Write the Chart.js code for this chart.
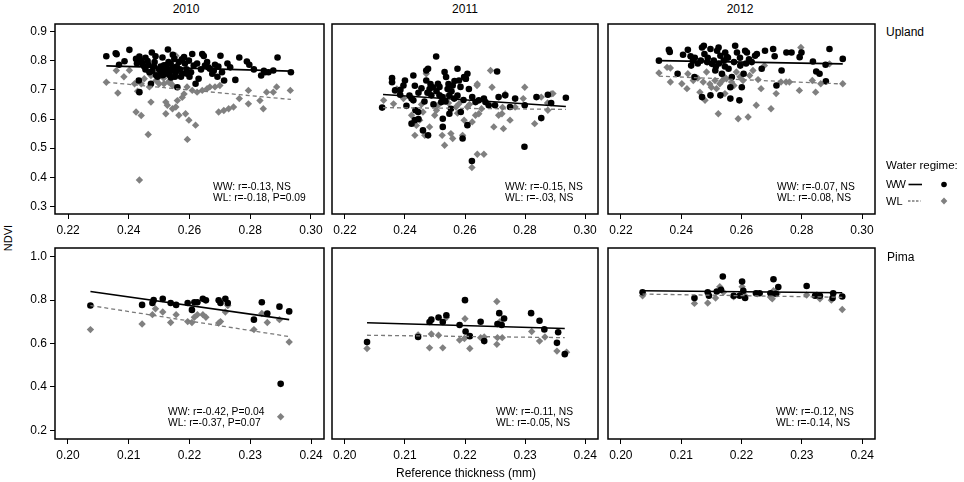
<!DOCTYPE html>
<html><head><meta charset="utf-8">
<script src="https://cdn.jsdelivr.net/npm/chart.js@4.4.1/dist/chart.umd.min.js"></script>
<style>
html,body{margin:0;padding:0;background:#fff;width:964px;height:482px;overflow:hidden;font-family:"Liberation Sans",Arial,sans-serif;color:#000}
.pane{position:absolute}
.t{position:absolute;white-space:nowrap;line-height:1}
.c{transform:translate(-50%,-50%)}
.s{font-size:10.3px;line-height:10.5px}
</style></head><body>
<script>
// ---------- data ----------
const years = ['2010', '2011', '2012'];
const cottonTypes = ['Upland', 'Pima'];
const xTicksUpland = [0.22, 0.24, 0.26, 0.28, 0.30];
const yTicksUpland = [0.3, 0.4, 0.5, 0.6, 0.7, 0.8, 0.9];
const xTicksPima = [0.20, 0.21, 0.22, 0.23, 0.24];
const yTicksPima = [0.2, 0.4, 0.6, 0.8, 1.0];

// Upland 2010
const wwU2010 = [[.2326,.815],[.2357,.825],[.236,.822],[.2368,.786],[.2386,.798],[.2402,.837],[.2424,.806],[.2427,.79],[.2435,.814],[.244,.80],[.2433,.732],[.2435,.692],[.2451,.78],[.2462,.799],[.2468,.76],[.2473,.721],[.2476,.828],[.2483,.78],[.249,.75],[.25,.77],[.2511,.811],[.2516,.784],[.2522,.755],[.2529,.838],[.2531,.795],[.2533,.765],[.2539,.742],[.2544,.777],[.255,.806],[.2555,.76],[.256,.709],[.2565,.795],[.2576,.755],[.2582,.812],[.2592,.755],[.2598,.80],[.2609,.823],[.2614,.783],[.262,.721],[.263,.738],[.2642,.823],[.2647,.816],[.2651,.783],[.2662,.777],[.2667,.772],[.2675,.755],[.2684,.786],[.2702,.817],[.2707,.76],[.2714,.732],[.2734,.777],[.2751,.734],[.2764,.811],[.2789,.797],[.2797,.786],[.2836,.749],[.2849,.76],[.286,.76],[.2876,.766],[.289,.811],[.2934,.76],
  [.2445,.79],[.2455,.77],[.2465,.785],[.2478,.765],[.2485,.795],[.2495,.745],[.2505,.76],[.2505,.78],[.2512,.75],[.2518,.77],[.2525,.785],[.2535,.75],[.2538,.79],[.2548,.765],[.2552,.745],[.2558,.78],[.2568,.77],[.2572,.745],[.2585,.79],[.259,.77],[.2605,.76],[.2625,.79],[.2638,.77],[.2658,.795],[.268,.765],[.2695,.78],[.2455,.81],[.2488,.815],[.2545,.82],[.2575,.805],[.26,.745],[.2692,.745],[.2725,.79],[.2812,.77],[.2845,.765]];
const wlU2010 = [[.2326,.726],[.2364,.689],[.2359,.766],[.2384,.745],[.2402,.767],[.2419,.721],[.2424,.624],[.2429,.695],[.2441,.612],[.2441,.721],[.2451,.738],[.2464,.547],[.2468,.71],[.2473,.658],[.2473,.749],[.249,.732],[.25,.721],[.2516,.721],[.2522,.658],[.2527,.647],[.2522,.618],[.2531,.727],[.2539,.721],[.2544,.635],[.2555,.817],[.2555,.641],[.256,.663],[.2565,.613],[.2576,.674],[.2582,.686],[.2587,.618],[.2592,.71],[.2593,.53],[.2598,.596],[.262,.579],[.2609,.698],[.2625,.692],[.2642,.698],[.2658,.704],[.2667,.71],[.2684,.71],[.27,.715],[.2696,.624],[.2713,.629],[.2729,.635],[.2745,.641],[.2764,.67],[.2794,.698],[.2794,.652],[.2832,.663],[.2843,.635],[.2854,.692],[.2876,.692],[.2887,.71],[.2932,.698],[.2435,.391],[.2535,.73],[.2545,.715],[.2515,.74]];
const wwLineU2010 = [[.2326,.782],[.2934,.764]];
const wlLineU2010 = [[.2326,.726],[.2934,.667]];
const statsU2010 = ['WW: r=-0.13, NS', 'WL: r=-0.18, P=0.09'];

// Upland 2011
const wwU2011 = [[.2324,.639],[.2357,.726],[.2357,.74],[.2367,.698],[.2384,.683],[.24,.732],[.2428,.749],[.2433,.714],[.2422,.67],[.2428,.664],[.2422,.584],[.2433,.596],[.2444,.624],[.246,.561],[.2477,.544],[.2471,.732],[.2471,.766],[.2477,.772],[.2482,.703],[.2488,.681],[.2493,.709],[.2504,.814],[.251,.721],[.2515,.681],[.2521,.658],[.2526,.601],[.2526,.573],[.2532,.761],[.2537,.744],[.2542,.703],[.2548,.681],[.2548,.618],[.2553,.635],[.2559,.715],[.2564,.67],[.2575,.772],[.258,.732],[.2586,.624],[.2592,.533],[.2597,.744],[.2602,.738],[.2608,.579],[.2608,.755],[.2613,.703],[.2624,.675],[.2635,.658],[.2646,.664],[.2663,.67],[.2668,.658],[.2679,.647],[.27,.647],[.2707,.763],[.2712,.675],[.2734,.681],[.275,.641],[.2767,.67],[.2799,.647],[.2838,.675],[.2854,.603],[.2876,.683],[.2887,.655],[.2936,.673],[.2798,.505],[.2623,.456],[.2603,.738],
  [.2445,.69],[.2455,.705],[.2465,.66],[.2475,.69],[.2485,.72],[.2495,.65],[.2505,.695],[.2515,.71],[.2525,.675],[.2535,.66],[.2545,.72],[.2555,.695],[.2565,.73],[.2575,.68],[.2585,.71],[.2595,.665],[.2385,.70],[.2395,.715],[.2415,.68],[.2405,.645],[.2435,.63],[.2445,.60]];
const wlU2011 = [[.2329,.664],[.2362,.652],[.2373,.703],[.2422,.613],[.2433,.544],[.2438,.578],[.2449,.596],[.246,.624],[.2466,.544],[.2471,.755],[.2482,.573],[.2499,.613],[.251,.647],[.2524,.544],[.2532,.51],[.2537,.675],[.2553,.55],[.2559,.533],[.257,.641],[.258,.652],[.2592,.544],[.2597,.596],[.2608,.641],[.2624,.59],[.2635,.613],[.264,.715],[.2646,.618],[.2685,.766],[.269,.709],[.2696,.573],[.2712,.613],[.2723,.618],[.2728,.567],[.2734,.686],[.275,.596],[.2767,.641],[.2794,.67],[.2799,.709],[.2832,.584],[.2854,.675],[.2876,.63],[.2887,.686],[.2641,.479],[.2663,.479],[.2623,.434],[.2641,.72],[.2893,.687],[.2875,.655],[.2395,.67],[.2455,.65],[.2505,.63],[.2545,.655],[.2575,.62],[.2615,.65],[.2655,.635],[.2725,.64]];
const wwLineU2011 = [[.2327,.684],[.2936,.643]];
const wlLineU2011 = [[.2327,.639],[.2936,.633]];
const statsU2011 = ['WW: r=-0.15, NS', 'WL: r=-.03, NS'];

// Upland 2012
const wwU2012 = [[.2326,.80],[.2359,.837],[.2362,.83],[.2388,.755],[.2406,.82],[.2422,.837],[.2431,.815],[.2439,.80],[.2433,.783],[.2444,.744],[.2469,.845],[.2475,.851],[.2477,.823],[.2486,.795],[.2497,.84],[.2502,.789],[.2513,.766],[.2519,.834],[.2524,.845],[.253,.817],[.2535,.755],[.2541,.80],[.2546,.828],[.2552,.812],[.2557,.772],[.2563,.709],[.2568,.744],[.2579,.851],[.2585,.828],[.2596,.783],[.2601,.709],[.2607,.755],[.2612,.834],[.2618,.828],[.2469,.675],[.2497,.681],[.253,.681],[.2563,.67],[.2593,.664],[.2634,.795],[.2645,.817],[.2651,.823],[.2667,.772],[.2678,.834],[.2705,.84],[.271,.815],[.2716,.715],[.2733,.766],[.2749,.828],[.2766,.828],[.2793,.812],[.2799,.828],[.2837,.797],[.2848,.763],[.2859,.755],[.2879,.786],[.2892,.84],[.2936,.806],[.288,.729],
  [.2445,.81],[.2455,.79],[.2465,.80],[.2488,.81],[.2508,.80],[.2515,.78],[.2525,.79],[.2545,.78],[.2555,.81],[.2575,.795],[.2595,.81],[.2615,.79],[.2625,.805]];
const wlU2012 = [[.2326,.758],[.2353,.777],[.2364,.775],[.2364,.727],[.2402,.721],[.2419,.704],[.2422,.755],[.244,.732],[.2462,.692],[.2473,.727],[.2479,.664],[.2484,.761],[.25,.709],[.2512,.732],[.2517,.704],[.2523,.618],[.2528,.721],[.2539,.749],[.2545,.687],[.255,.738],[.2567,.727],[.2583,.761],[.2589,.601],[.2605,.732],[.2622,.607],[.2627,.749],[.2638,.766],[.2649,.647],[.2665,.704],[.2676,.783],[.2698,.635],[.2715,.687],[.2731,.727],[.2748,.727],[.2759,.727],[.2792,.698],[.2797,.845],[.2835,.732],[.2846,.692],[.2863,.721],[.2892,.789],[.2936,.721],[.2455,.74],[.2495,.72],[.2535,.73],[.2575,.715],[.2595,.745],[.2655,.735]];
const wwLineU2012 = [[.2326,.80],[.2936,.789]];
const wlLineU2012 = [[.2326,.747],[.2936,.72]];
const statsU2012 = ['WW: r=-0.07, NS', 'WL: r=-0.08, NS'];

// Pima 2010
const wwP2010 = [[.2037,.775],[.2122,.778],[.2139,.787],[.2141,.80],[.2156,.806],[.2169,.787],[.2178,.778],[.2197,.787],[.2208,.79],[.2213,.79],[.2204,.755],[.2222,.806],[.2227,.799],[.2248,.799],[.2251,.787],[.2259,.806],[.2263,.787],[.2306,.71],[.2319,.79],[.2328,.738],[.2348,.77],[.235,.414],[.2364,.748]];
const wlP2010 = [[.2037,.664],[.2122,.69],[.2139,.733],[.2144,.76],[.2156,.745],[.2169,.697],[.2178,.733],[.2197,.701],[.2208,.721],[.2213,.733],[.2204,.697],[.2222,.733],[.2227,.721],[.2248,.694],[.2251,.701],[.2259,.745],[.2263,.775],[.2306,.664],[.2319,.738],[.2328,.697],[.2348,.71],[.235,.262],[.2364,.607]];
const wwLineP2010 = [[.2037,.84],[.2364,.71]];
const wlLineP2010 = [[.2037,.775],[.2364,.632]];
const statsP2010 = ['WW: r=-0.42, P=0.04', 'WL: r=-0.37, P=0.07'];

// Pima 2011
const wwP2011 = [[.2037,.607],[.2122,.63],[.2141,.699],[.2144,.71],[.2156,.72],[.2163,.699],[.2169,.73],[.2191,.685],[.2201,.655],[.22,.80],[.2208,.634],[.2226,.70],[.2232,.611],[.2254,.69],[.2257,.74],[.2261,.685],[.2265,.715],[.231,.74],[.2324,.705],[.2332,.665],[.2355,.652],[.2353,.603],[.2366,.551]];
const wlP2011 = [[.2037,.577],[.2122,.64],[.2141,.58],[.2144,.644],[.2156,.638],[.2163,.58],[.2169,.72],[.2191,.616],[.2199,.623],[.22,.714],[.2208,.577],[.2226,.627],[.2232,.63],[.2254,.627],[.2253,.794],[.2253,.596],[.2258,.70],[.2262,.627],[.2311,.655],[.2324,.611],[.2333,.63],[.2353,.565],[.2369,.56]];
const wwLineP2011 = [[.2037,.696],[.2366,.669]];
const wlLineP2011 = [[.2037,.638],[.2366,.627]];
const statsP2011 = ['WW: r=-0.11, NS', 'WL: r=-0.05, NS'];

// Pima 2012
const wwP2012 = [[.2036,.836],[.2122,.81],[.2144,.836],[.2146,.82],[.2159,.84],[.2166,.848],[.2169,.909],[.2187,.82],[.2197,.82],[.2201,.886],[.2203,.843],[.2206,.81],[.2224,.832],[.223,.832],[.2248,.832],[.2253,.896],[.2257,.829],[.2261,.86],[.2308,.865],[.2322,.82],[.233,.82],[.2351,.81],[.2352,.832],[.2367,.817]];
const wlP2012 = [[.2036,.82],[.2122,.785],[.2144,.787],[.2157,.81],[.2164,.862],[.217,.836],[.2187,.815],[.2197,.824],[.2201,.862],[.2206,.82],[.2226,.829],[.2248,.814],[.2251,.806],[.2253,.843],[.2259,.829],[.2308,.824],[.2325,.824],[.233,.806],[.2349,.80],[.2367,.757]];
const wwLineP2012 = [[.2036,.843],[.2367,.834]];
const wlLineP2012 = [[.2036,.828],[.2367,.813]];
const statsP2012 = ['WW: r=-0.12, NS', 'WL: r=-0.14, NS'];

// ---------- layout ----------
const FONT = '"Liberation Sans", Arial, sans-serif';
const colBox = [[55, 325], [331, 599], [607, 876]];
const rowBox = [[23, 214], [247, 439]];
const rowRange = [[0.2744, 0.9256], [0.1596, 1.0404]];
const xRange = [[0.2157, 0.3043], [0.19787, 0.24213]];
const statsPos = [[[213, 182], [505, 182], [777, 182]], [[168, 407], [496, 407], [776, 407]]];

const panels = [
  {row:0, col:0, ww:wwU2010, wl:wlU2010, wwL:wwLineU2010, wlL:wlLineU2010, stats:statsU2010},
  {row:0, col:1, ww:wwU2011, wl:wlU2011, wwL:wwLineU2011, wlL:wlLineU2011, stats:statsU2011},
  {row:0, col:2, ww:wwU2012, wl:wlU2012, wwL:wwLineU2012, wlL:wlLineU2012, stats:statsU2012},
  {row:1, col:0, ww:wwP2010, wl:wlP2010, wwL:wwLineP2010, wlL:wlLineP2010, stats:statsP2010},
  {row:1, col:1, ww:wwP2011, wl:wlP2011, wwL:wwLineP2011, wlL:wlLineP2011, stats:statsP2011},
  {row:1, col:2, ww:wwP2012, wl:wlP2012, wwL:wwLineP2012, wlL:wlLineP2012, stats:statsP2012}
];

const boxPlugin = {
  id: 'panelBox',
  afterDraw(c) {
    const a = c.chartArea, x = c.ctx;
    x.save(); x.strokeStyle = '#000'; x.lineWidth = 1.5;
    x.strokeRect(a.left, a.top, a.right - a.left, a.bottom - a.top);
    x.restore();
  }
};

const pts = arr => arr.map(p => ({x: p[0], y: p[1]}));

function addText(txt, left, top, cls, style) {
  const d = document.createElement('div');
  d.className = 't ' + (cls || '');
  d.textContent = txt;
  d.style.left = left + 'px'; d.style.top = top + 'px';
  Object.assign(d.style, style || {});
  document.body.appendChild(d);
  return d;
}

function makePanel(p) {
  const [bl, br] = colBox[p.col], [bt, bb] = rowBox[p.row];
  const showY = p.col === 0;
  const yW = 40, padT = 3, padR = 3, xH = 26;
  const padL = showY ? yW : 3;
  const div = document.createElement('div');
  div.className = 'pane';
  div.style.left = (bl - padL) + 'px';
  div.style.top = (bt - padT) + 'px';
  div.style.width = (br - bl + padL + padR) + 'px';
  div.style.height = (bb - bt + padT + xH) + 'px';
  const cv = document.createElement('canvas');
  div.appendChild(cv);
  document.body.appendChild(div);
  const xt = p.row === 0 ? xTicksUpland : xTicksPima;
  const yt = p.row === 0 ? yTicksUpland : yTicksPima;
  new Chart(cv, {
    type: 'scatter',
    data: { datasets: [
      {data: pts(p.wlL), showLine: true, borderColor: '#7a7a7a', borderDash: [4, 3], borderWidth: 1.3, pointRadius: 0, order: 0},
      {data: pts(p.wwL), showLine: true, borderColor: '#000', borderWidth: 1.6, pointRadius: 0, order: 0},
      {data: pts(p.ww), pointStyle: 'circle', pointRadius: 3.3, pointBackgroundColor: '#000', pointBorderWidth: 0, backgroundColor: '#000', order: 1},
      {data: pts(p.wl), pointStyle: 'rectRot', pointRadius: 3.7, pointBackgroundColor: '#808080', pointBorderWidth: 0, backgroundColor: '#808080', order: 2}
    ]},
    options: {
      responsive: true, maintainAspectRatio: false, animation: false, events: [],
      layout: {padding: {left: showY ? 0 : padL, top: padT, right: padR, bottom: 0}},
      plugins: {legend: {display: false}, tooltip: {enabled: false}},
      scales: {
        x: {
          type: 'linear', position: 'bottom', min: xRange[p.row][0], max: xRange[p.row][1],
          afterBuildTicks: s => { s.ticks = xt.map(v => ({value: v})); },
          afterFit: s => { s.height = xH; s.paddingLeft = 0; s.paddingRight = 0; },
          ticks: {callback: v => Number(v).toFixed(2), color: '#000', font: {family: FONT, size: 12}, padding: 4.5, maxRotation: 0, autoSkip: false},
          grid: {display: true, drawOnChartArea: false, drawTicks: true, tickLength: 5, color: '#000', lineWidth: 1},
          border: {display: false}
        },
        y: {
          type: 'linear', display: showY, min: rowRange[p.row][0], max: rowRange[p.row][1],
          afterBuildTicks: s => { s.ticks = yt.map(v => ({value: v})); },
          afterFit: s => { s.width = showY ? yW : 0; s.paddingTop = 0; s.paddingBottom = 0; },
          ticks: {callback: v => Number(v).toFixed(1), color: '#000', font: {family: FONT, size: 12}, padding: 3, autoSkip: false},
          grid: {display: true, drawOnChartArea: false, drawTicks: true, tickLength: 5, color: '#000', lineWidth: 1},
          border: {display: false}
        }
      }
    },
    plugins: [boxPlugin]
  });
  const sp = statsPos[p.row][p.col];
  addText(p.stats[0], sp[0], sp[1], 's');
  addText(p.stats[1], sp[0], sp[1] + 11, 's');
}

panels.forEach(makePanel);

// titles and labels
const titleX = [186, 465, 740];
years.forEach((y, i) => addText(y, titleX[i], 8.5, 'c', {fontSize: '12px'}));
addText(cottonTypes[0], 886, 26, '', {fontSize: '12px'});
addText(cottonTypes[1], 887, 251, '', {fontSize: '12px'});
addText('NDVI', 8, 238, 'c', {fontSize: '11px', transform: 'translate(-50%,-50%) rotate(-90deg)'});
addText('Reference thickness (mm)', 466, 473, 'c', {fontSize: '12px'});
addText('Water regime:', 886, 159.5, '', {fontSize: '11.5px'});
addText('WW', 886, 179, '', {fontSize: '11px', letterSpacing: '-0.8px'});
addText('WL', 886, 195.5, '', {fontSize: '11px'});
const lg = document.createElementNS('http://www.w3.org/2000/svg', 'svg');
lg.setAttribute('width', '50'); lg.setAttribute('height', '30');
lg.style.position = 'absolute'; lg.style.left = '904px'; lg.style.top = '177px';
lg.innerHTML = '<line x1="4.5" y1="7.5" x2="18" y2="7.5" stroke="#000" stroke-width="1.6"/>' +
  '<circle cx="40" cy="7.5" r="2.8" fill="#000"/>' +
  '<line x1="4" y1="24" x2="16.5" y2="24" stroke="#7a7a7a" stroke-width="1.3" stroke-dasharray="2.5,1.5"/>' +
  '<path d="M40 20.5 L43.3 24 L40 27.5 L36.7 24 Z" fill="#808080"/>';
document.body.appendChild(lg);
</script>
</body></html>
